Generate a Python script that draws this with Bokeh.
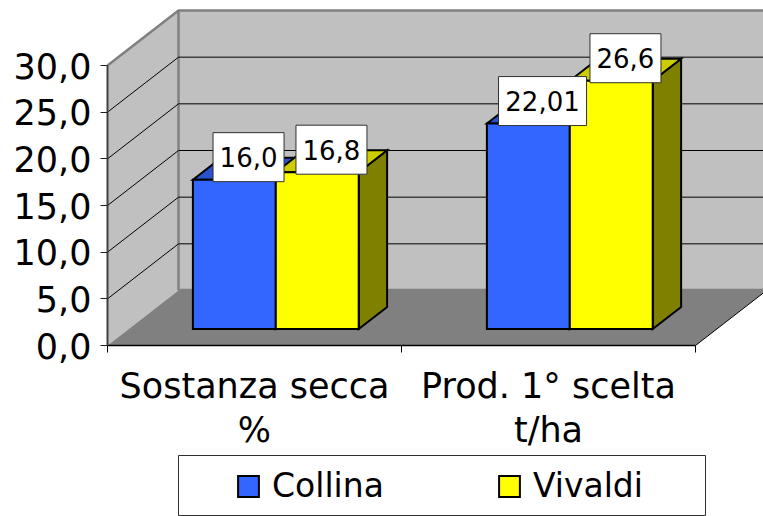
from bokeh.plotting import figure
from bokeh.embed import file_html
from bokeh.resources import INLINE
from bokeh.models import (Range1d, FixedTicker, Legend, LegendItem, ColumnDataSource)
from bokeh.core.properties import value

categories = ["Sostanza secca\n%", "Prod. 1° scelta\nt/ha"]
series_names = ["Collina", "Vivaldi"]
collina = [16.0, 22.01]
vivaldi = [16.8, 26.6]
y_ticks = [0, 5, 10, 15, 20, 25, 30]
y_tick_labels = ["0,0", "5,0", "10,0", "15,0", "20,0", "25,0", "30,0"]

FRONT = ["#3366FF", "#FFFF00"]
TOP = ["#2952CC", "#CCCC00"]
SIDE = ["#1F3D99", "#808000"]
FONT = "DejaVu Sans"

PX_X = 294.0          # pixels per category
PX_Y = 280.0 / 30.0   # pixels per value unit
DX = 71.0 / PX_X      # depth of the box, horizontally, in categories
DY = 55.0 / PX_Y      # depth of the box, vertically, in value units
N = len(categories)
VMAX = y_ticks[-1]
BAR_W = 0.282
BAR_START = 0.218
D0, D1 = 0.3, 0.7
FLOOR_D = 1.03
W, H = 763, 516
ORIGIN_X, ORIGIN_Y = 107, 345


def proj(x, v, d):
    return x + d * DX, v + d * DY


def poly(points):
    xs, ys = zip(*[proj(*pt) for pt in points])
    return list(xs), list(ys)


def sx(px):
    return (px - ORIGIN_X) / PX_X


def sy(py):
    return (ORIGIN_Y - py) / PX_Y


p = figure(width=W, height=H, output_backend="svg", toolbar_location=None,
           x_range=Range1d(sx(0), sx(W)), y_range=Range1d(sy(H), sy(0)),
           min_border=0)
p.outline_line_color = None
p.grid.visible = False
p.background_fill_color = "white"

# walls and floor
xs, ys = poly([(0, 0, 0), (0, VMAX, 0), (0, VMAX, 1), (0, 0, 1)])
p.patch(xs, ys, fill_color="#C0C0C0", line_color=None)
xs, ys = poly([(0, 0, 1), (0, VMAX, 1), (N, VMAX, 1), (N, 0, 1)])
p.patch(xs, ys, fill_color="#C0C0C0", line_color=None)
xs, ys = poly([(0, 0, 0), (0, 0, FLOOR_D), (N, 0, FLOOR_D), (N, 0, 0)])
p.patch(xs, ys, fill_color="#808080", line_color=None)
xs, ys = poly([(N, 0, 0), (N, 0, FLOOR_D)])
p.line(xs, ys, line_color="black", line_width=1)

# wall borders
xs, ys = poly([(0, VMAX, 0), (0, VMAX, 1), (N, VMAX, 1)])
p.line(xs, ys, line_color="#808080", line_width=2.5)
xs, ys = poly([(0, VMAX, 1), (0, 0, 1)])
p.line(xs, ys, line_color="#808080", line_width=2.5)

# gridlines
for v in y_ticks[1:-1]:
    xs, ys = poly([(0, v, 0), (0, v, 1), (N, v, 1)])
    p.line(xs, ys, line_color="black", line_width=1)

# bars
legend_refs = []
box_x, box_y, box_w, box_t = [], [], [], []
for g in range(N):
    for s, vals in enumerate([collina, vivaldi]):
        v = vals[g]
        x0 = g + BAR_START + s * BAR_W
        x1 = x0 + BAR_W
        kw = dict(line_color="black", line_width=2, line_join="miter")
        xs, ys = poly([(x1, 0, D0), (x1, v, D0), (x1, v, D1), (x1, 0, D1)])
        p.patch(xs, ys, fill_color=SIDE[s], **kw)
        xs, ys = poly([(x0, v, D0), (x0, v, D1), (x1, v, D1), (x1, v, D0)])
        p.patch(xs, ys, fill_color=TOP[s], **kw)
        lx, ly = proj(x0, 0, D0)
        rx, ty = proj(x1, v, D0)
        r = p.quad(left=lx, right=rx, bottom=ly, top=ty, fill_color=FRONT[s], **kw)
        if g == 0:
            legend_refs.append(r)
        cx, cy = proj((x0 + x1) / 2, v, 0.5)
        txt = str(v).replace(".", ",")
        box_x.append(cx)
        box_y.append(cy + 11.5 / PX_Y)
        box_w.append(71 + (len(txt) - 4) * 17)
        box_t.append(txt)

src = ColumnDataSource(dict(x=box_x, y=box_y, w=box_w, t=box_t))
p.rect(x="x", y="y", width="w", height=49, width_units="screen", height_units="screen",
       source=src, fill_color="white", line_color="#303030", line_width=1)
p.text(x="x", y="y", text="t", source=src, text_align="center", text_baseline="middle",
       text_font=value(FONT), text_font_size="26px", text_color="black")

# axes
ya = p.yaxis[0]
ya.fixed_location = 0
ya.ticker = FixedTicker(ticks=y_ticks)
ya.major_label_overrides = dict(zip(y_ticks, y_tick_labels))
ya.bounds = (0, VMAX)
ya.axis_line_color = "#404040"
ya.axis_line_width = 2
ya.major_tick_line_color = "#202020"
ya.major_tick_line_width = 1
ya.major_tick_out = 7
ya.major_tick_in = 0
ya.minor_tick_line_color = None
ya.major_label_standoff = 9
ya.major_label_text_font = FONT
ya.major_label_text_font_size = "35px"
ya.major_label_text_color = "black"

xa = p.xaxis[0]
xa.fixed_location = 0
centers = [g + 0.5 for g in range(N)]
xa.ticker = FixedTicker(ticks=centers, minor_ticks=list(range(N + 1)))
xa.major_label_overrides = dict(zip(centers, categories))
xa.bounds = (0, N)
xa.axis_line_color = "black"
xa.axis_line_width = 1.5
xa.major_tick_line_color = None
xa.minor_tick_line_color = "black"
xa.minor_tick_out = 7
xa.minor_tick_in = 0
xa.major_label_standoff = 13
xa.major_label_orientation = "horizontal"
xa.major_label_text_font = FONT
xa.major_label_text_font_size = "35px"
xa.major_label_text_color = "black"
xa.major_label_text_line_height = 1.1

# legend frame and legend
p.quad(left=sx(178), right=sx(705), top=sy(455), bottom=sy(515),
       fill_color="white", line_color="#303030", line_width=1)
legend = Legend(items=[LegendItem(label=n, renderers=[r]) for n, r in zip(series_names, legend_refs)],
                orientation="horizontal", location=(235, H - 505), padding=0, margin=0, spacing=112,
                glyph_width=26, glyph_height=26, label_standoff=11, border_line_color=None,
                background_fill_alpha=0, label_text_font=FONT, label_text_font_size="33px",
                label_text_color="black")
p.add_layout(legend, "center")

open("out.html", "w").write(file_html(p, INLINE))
